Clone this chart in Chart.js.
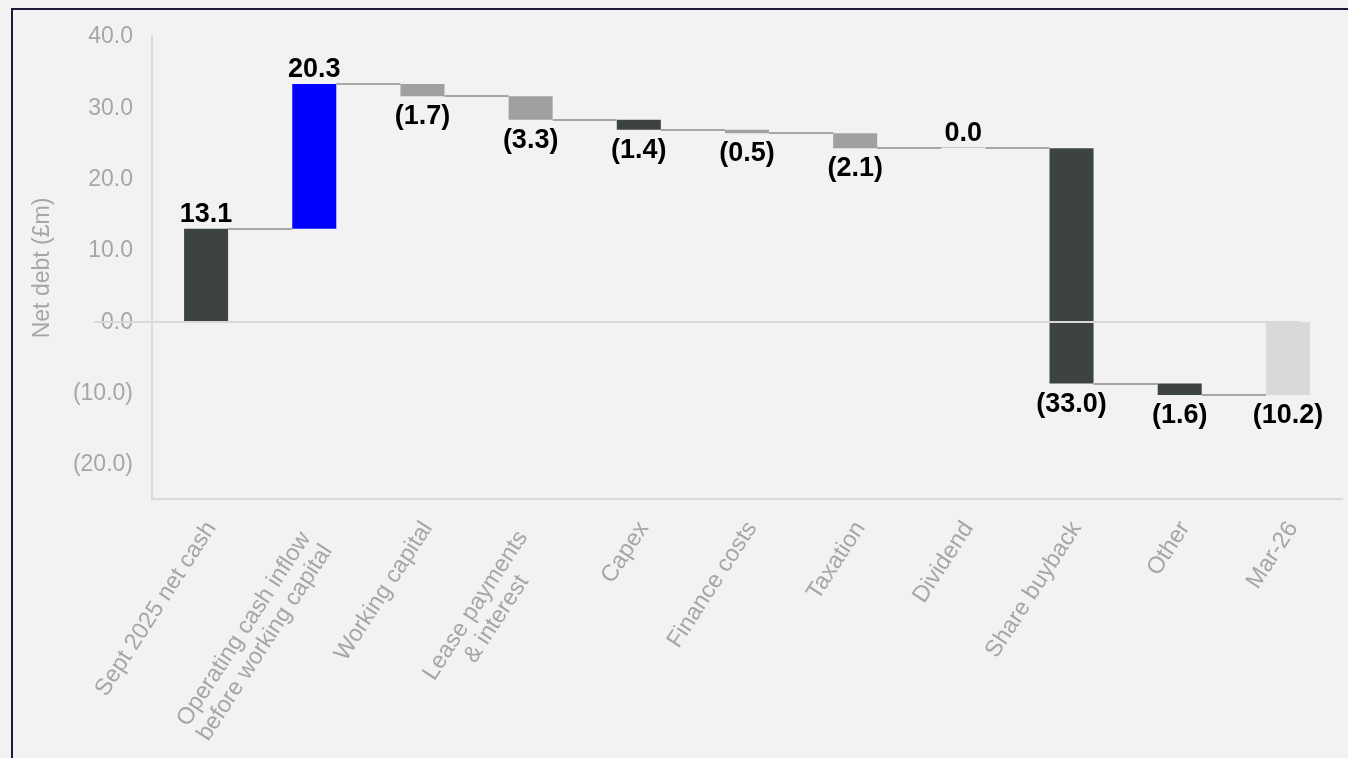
<!DOCTYPE html>
<html>
<head>
<meta charset="utf-8">
<title>Net debt bridge</title>
<script src="https://cdn.jsdelivr.net/npm/chart.js@4.4.1/dist/chart.umd.min.js"></script>
<style>
  html, body { margin: 0; padding: 0; background: #f2f2f2; overflow: hidden; }
  #wrap { position: relative; width: 1348px; height: 758px; }
  #frame {
    position: absolute; left: 11px; top: 8px; right: -10px; bottom: -10px;
    border-left: 2px solid #1b1b3d; border-top: 2px solid #1b1b3d;
    pointer-events: none;
  }
  canvas { position: absolute; left: 0; top: 0; }
</style>
</head>
<body>
<div id="wrap">
  <canvas id="bridge" width="1348" height="758"></canvas>
  <div id="frame"></div>
</div>
<script>
// ── Data ────────────────────────────────────────────────────────────────────
const CATEGORIES = [
  "Sept 2025 net cash",
  ["Operating cash inflow", "before working capital"],
  "Working capital",
  ["Lease payments", "& interest"],
  "Capex",
  "Finance costs",
  "Taxation",
  "Dividend",
  "Share buyback",
  "Other",
  "Mar-26",
];
const MOVES    = [13.1, 20.3, -1.7, -3.3, -1.4, -0.5, -2.1, 0.0, -33.0, -1.6, -10.2];
const IS_TOTAL = [true, false, false, false, false, false, false, false, false, false, true];
const BAR_COLORS = [
  "#3d4343", "#0000ff", "#a0a0a0", "#a0a0a0", "#3d4343", "#a0a0a0",
  "#a0a0a0", "#a0a0a0", "#3d4343", "#3d4343", "#d9d9d9",
];
const Y_TICKS = [-20, -10, 0, 10, 20, 30, 40];

// ── Helpers ─────────────────────────────────────────────────────────────────
const FONT = "'Liberation Sans', Arial, sans-serif";
const round1 = v => Math.round(v * 10) / 10;
const fmtValue = v => (v < 0 ? `(${Math.abs(v).toFixed(1)})` : v.toFixed(1));

// floating [start, end] ranges for the waterfall + level after each step
const ranges = [];
const levels = [];
let running = 0;
MOVES.forEach((mv, i) => {
  if (IS_TOTAL[i]) {
    ranges.push([0, mv]);
    running = mv;
  } else {
    const next = round1(running + mv);
    ranges.push([running, next]);
    running = next;
  }
  levels.push(running);
});

// ── Plugin: connectors, value labels, zero line, category labels ────────────
const waterfallExtras = {
  id: "waterfallExtras",
  afterDatasetsDraw(chart) {
    const { ctx, chartArea, scales: { x, y } } = chart;
    const bars = chart.getDatasetMeta(0).data;

    ctx.save();
    // step connectors
    ctx.strokeStyle = "#a6a6a6";
    ctx.lineWidth = 2;
    for (let i = 0; i < bars.length - 1; i++) {
      const a = bars[i], b = bars[i + 1];
      const py = Math.round(y.getPixelForValue(levels[i]));
      ctx.beginPath();
      ctx.moveTo(a.x + a.width / 2, py);
      ctx.lineTo(b.x - b.width / 2, py);
      ctx.stroke();
    }
    // zero-height steps show as a faint line
    ctx.strokeStyle = "#c8c8c8";
    ctx.lineWidth = 1;
    bars.forEach((b, i) => {
      if (ranges[i][0] !== ranges[i][1]) return;
      const py = Math.round(y.getPixelForValue(ranges[i][0])) - 0.5;
      ctx.beginPath();
      ctx.moveTo(b.x - b.width / 2, py);
      ctx.lineTo(b.x + b.width / 2, py);
      ctx.stroke();
    });

    // zero line across the plot
    const zy = Math.round(y.getPixelForValue(0));
    ctx.strokeStyle = "#d9d9d9";
    ctx.lineWidth = 2;
    ctx.beginPath();
    ctx.moveTo(chartArea.left - 58, zy);
    ctx.lineTo(chartArea.right - 42, zy);
    ctx.stroke();

    // value labels
    ctx.fillStyle = "#000";
    ctx.font = `bold 27px ${FONT}`;
    ctx.textAlign = "center";
    ctx.textBaseline = "alphabetic";
    bars.forEach((b, i) => {
      const [s, e] = ranges[i];
      const v = MOVES[i];
      if (v >= 0) {
        ctx.fillText(fmtValue(v), b.x, y.getPixelForValue(Math.max(s, e)) - 7);
      } else {
        ctx.fillText(fmtValue(v), b.x, y.getPixelForValue(Math.min(s, e)) + 28);
      }
    });

    // rotated category labels, lines centred within each block
    ctx.fillStyle = "#a6a6a6";
    ctx.font = `23.5px ${FONT}`;
    ctx.textBaseline = "middle";
    ctx.textAlign = "center";
    const angle = -57 * Math.PI / 180;
    const lineH = 25;
    CATEGORIES.forEach((lab, i) => {
      const lines = Array.isArray(lab) ? lab : [lab];
      const w = Math.max(...lines.map(l => ctx.measureText(l).width));
      const multi = lines.length > 1;
      const back = multi ? 12 : 0;   // two-line blocks sit further down the slope
      ctx.save();
      ctx.translate(x.getPixelForValue(i) + (multi ? 9 : 5), chartArea.bottom + (multi ? 31 : 25));
      ctx.rotate(angle);
      lines.forEach((l, j) => {
        ctx.fillText(l, -w / 2 - back, (j - (lines.length - 1) / 2) * lineH);
      });
      ctx.restore();
    });
    ctx.restore();
  },
};

// ── Chart ───────────────────────────────────────────────────────────────────
Chart.defaults.font.family = FONT;

new Chart(document.getElementById("bridge"), {
  type: "bar",
  data: {
    labels: CATEGORIES.map(c => (Array.isArray(c) ? c.join(" ") : c)),
    datasets: [{
      data: ranges,
      backgroundColor: BAR_COLORS,
      borderWidth: 0,
      borderSkipped: false,
      barPercentage: 0.407,
      categoryPercentage: 1.0,
    }],
  },
  options: {
    responsive: false,
    animation: false,
    layout: { padding: { top: 37, right: 6, bottom: 259, left: 0 } },
    plugins: {
      legend: { display: false },
      tooltip: { enabled: false },
    },
    scales: {
      x: {
        grid: { display: false, drawTicks: false },
        border: { display: true, color: "#d9d9d9", width: 2 },
        ticks: { display: false },
        afterFit: s => { s.height = 0; },
      },
      y: {
        min: -24.8,
        max: 40,
        afterBuildTicks: s => { s.ticks = Y_TICKS.map(v => ({ value: v })); },
        afterFit: s => { s.width = 152; },
        grid: { display: false, drawTicks: false },
        border: { display: true, color: "#d9d9d9", width: 2 },
        ticks: {
          color: "#a6a6a6",
          font: { size: 23 },
          padding: 19,
          callback: v => fmtValue(v),
        },
        title: {
          display: true,
          text: "Net debt (£m)",
          color: "#a6a6a6",
          font: { size: 23 },
          padding: { top: 29, bottom: 0 },
        },
      },
    },
  },
  plugins: [waterfallExtras],
});
</script>
</body>
</html>
